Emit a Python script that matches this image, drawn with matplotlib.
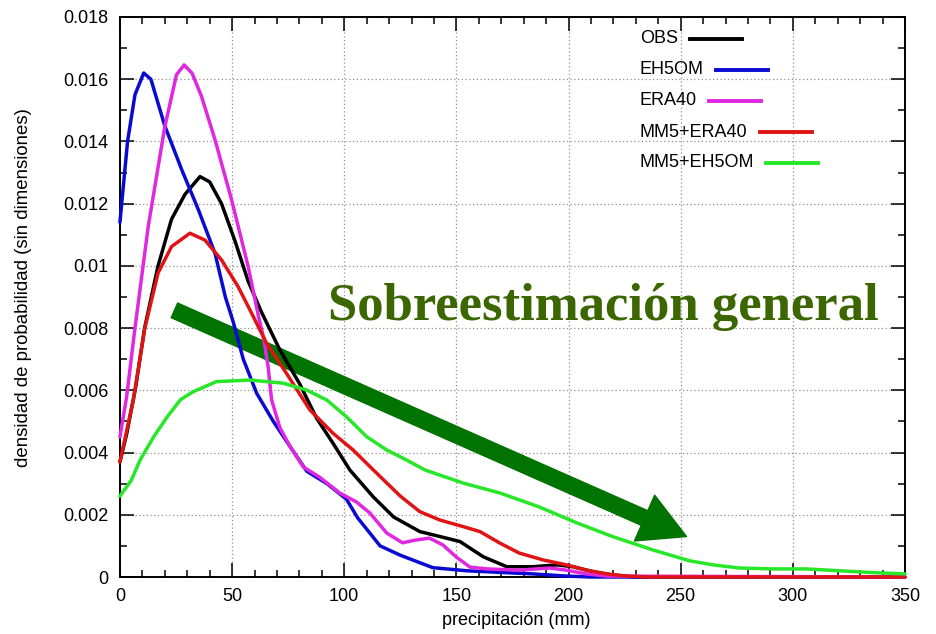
import numpy as np
import matplotlib
matplotlib.use('Agg')
import matplotlib.pyplot as plt
from matplotlib.ticker import MultipleLocator, FuncFormatter
from matplotlib.patches import FancyArrowPatch
from matplotlib.lines import Line2D

# precipitation pdfs read at irregular x positions (mm)
obs_x = [0, 3, 7, 11, 17, 23, 29, 35.7, 40, 45.3, 51.3, 57.2, 63.2, 71.3, 80.2, 87.7, 95,
         102.5, 113, 122, 133.7, 142.7, 151.6, 162, 172.5, 184, 195, 202, 211, 220, 230, 350]
obs_y = [0.0037, 0.0046, 0.0061, 0.0080, 0.0100, 0.0115, 0.0123, 0.01287, 0.0127, 0.0120,
         0.0108, 0.0095, 0.0085, 0.0073, 0.0062, 0.0051, 0.0043, 0.00344, 0.00257, 0.00193,
         0.00146, 0.0013, 0.00114, 0.00065, 0.00033, 0.00033, 0.00039, 0.00033, 0.00017,
         0.00006, 0, 0]

eh5om_x = [0, 3.4, 6.7, 10.6, 13.8, 20, 27.5, 35, 42.4, 47, 50.5, 55, 61, 68.4, 75.8, 83.3,
           92.3, 101, 106, 116, 125, 139.5, 154.7, 169, 184, 199, 210, 350]
eh5om_y = [0.0114, 0.0140, 0.0155, 0.0162, 0.0160, 0.0145, 0.0131, 0.0118, 0.0104, 0.0090,
           0.0082, 0.0070, 0.0059, 0.0050, 0.0042, 0.0034, 0.0030, 0.0025, 0.0019, 0.0010,
           0.0007, 0.0003, 0.0002, 0.00015, 0.0001, 0.00003, 0, 0]

era40_x = [0, 3, 6.7, 12.6, 20, 25.2, 28.6, 32.2, 36.4, 42.4, 49.8, 57.2, 61.7, 64, 66, 67.6,
           71.3, 75.8, 81.7, 89, 98, 105.5, 111.5, 119, 126, 132, 138, 144, 150, 156, 163.5,
           178, 191.7, 199, 208, 217, 350]
era40_y = [0.0045, 0.0058, 0.0080, 0.01126, 0.01447, 0.01614, 0.01646, 0.01619, 0.01544,
           0.01405, 0.01212, 0.00997, 0.0084, 0.0077, 0.0068, 0.0057, 0.0048, 0.0042, 0.00354,
           0.00321, 0.0027, 0.00241, 0.00205, 0.00141, 0.0011, 0.00119, 0.00125, 0.00103,
           0.00064, 0.00032, 0.00026, 0.00022, 0.00029, 0.00022, 0.0001, 0.00003, 0]

mm5era_x = [0, 6, 11.1, 17, 23, 31.2, 37.9, 45.3, 52.7, 58.7, 65.4, 74.3, 84.7, 95, 104, 113,
            125, 133.7, 142.7, 153, 160.5, 169.4, 178, 188.6, 199, 208, 217, 226, 235, 350]
mm5era_y = [0.0037, 0.0057, 0.0080, 0.00977, 0.01062, 0.01105, 0.01083, 0.01019, 0.00933,
            0.00848, 0.00751, 0.00654, 0.00537, 0.00462, 0.00408, 0.00344, 0.0026, 0.0021,
            0.00183, 0.00162, 0.00146, 0.00109, 0.00077, 0.00055, 0.00039, 0.00022, 0.0001,
            0.00003, 0, 0]

mm5eh_x = [0, 5, 9, 15, 21, 27, 32.5, 43, 58, 72.8, 83.2, 92.2, 101, 110, 119, 127.8, 136,
           153, 169.4, 187, 203.7, 220, 237.6, 254, 264.5, 276, 291, 306, 321, 336, 350]
mm5eh_y = [0.0026, 0.0031, 0.00376, 0.0045, 0.00514, 0.0057, 0.00595, 0.00628, 0.00633,
           0.00623, 0.00601, 0.00569, 0.00515, 0.00451, 0.00408, 0.00376, 0.00344, 0.00302,
           0.0027, 0.00225, 0.00174, 0.00129, 0.00087, 0.00052, 0.00039, 0.00029, 0.00026,
           0.00026, 0.0002, 0.00014, 0.0001]

series = [
    ('OBS', obs_x, obs_y, '#000000'),
    ('EH5OM', eh5om_x, eh5om_y, '#0a0ad2'),
    ('ERA40', era40_x, era40_y, '#e028e0'),
    ('MM5+ERA40', mm5era_x, mm5era_y, '#e01414'),
    ('MM5+EH5OM', mm5eh_x, mm5eh_y, '#28e628'),
]

plt.rcParams['font.family'] = ['Liberation Sans', 'DejaVu Sans']

fig = plt.figure(figsize=(9.37, 6.34), dpi=100)
ax = fig.add_axes([0.128, 0.0899, 0.8378, 0.8833])

for label, x, y, color in series:
    ax.plot(x, y, color=color, lw=2.5, zorder=3, clip_on=False,
            solid_joinstyle='round', solid_capstyle='round')

ax.set_xlim(0, 350)
ax.set_ylim(0, 0.018)
ax.xaxis.set_major_locator(MultipleLocator(50))
ax.xaxis.set_minor_locator(MultipleLocator(10))
ax.yaxis.set_major_locator(MultipleLocator(0.002))
ax.yaxis.set_minor_locator(MultipleLocator(0.001))
ax.yaxis.set_major_formatter(FuncFormatter(lambda v, p: '%g' % round(v, 6)))
ax.tick_params(which='both', direction='in', top=True, right=True, labelsize=13, width=1.1)
ax.tick_params(which='major', length=10, pad=8)
ax.tick_params(which='minor', length=5)
for sp in ax.spines.values():
    sp.set_linewidth(1.4)
ax.grid(True, which='major', color='#909090', linestyle=(0, (1, 2)), linewidth=0.9)
ax.set_axisbelow(True)

ax.set_xlabel('precipitación (mm)', fontsize=13)
ax.set_ylabel('densidad de probabilidad (sin dimensiones)', fontsize=13.4)
ax.xaxis.set_label_coords(0.505, -0.062)
ax.yaxis.set_label_coords(-0.112, 0.517)

# key: label first, sample line right after each label
renderer = fig.canvas.get_renderer()
key_y = [0.9607, 0.9054, 0.85, 0.7946, 0.7393]
to_axes = ax.transAxes.inverted()
for (label, x, y, color), ky in zip(series, key_y):
    t = ax.text(0.6624, ky, label, transform=ax.transAxes, fontsize=13,
                va='center', ha='left', zorder=5)
    bb = t.get_window_extent(renderer)
    x0 = to_axes.transform((bb.x1 + 12, 0))[0]
    x1 = to_axes.transform((bb.x1 + 64, 0))[0]
    ax.add_line(Line2D([x0, x1], [ky, ky], transform=ax.transAxes, color=color,
                       lw=2.8, zorder=5, clip_on=False))

# trend arrow
arrow = FancyArrowPatch((24.3, 0.00857), (252.6, 0.0013),
                        arrowstyle='simple,head_length=33,head_width=36,tail_width=11.5',
                        color='#007300', shrinkA=0, shrinkB=0, zorder=2.5)
ax.add_patch(arrow)

ax.text(92.7, 0.00825, 'Sobreestimación general', family='Liberation Serif',
        fontweight='bold', fontsize=38, color='#3b6600', va='baseline', ha='left', zorder=6)

fig.savefig('out.png', dpi=100)
